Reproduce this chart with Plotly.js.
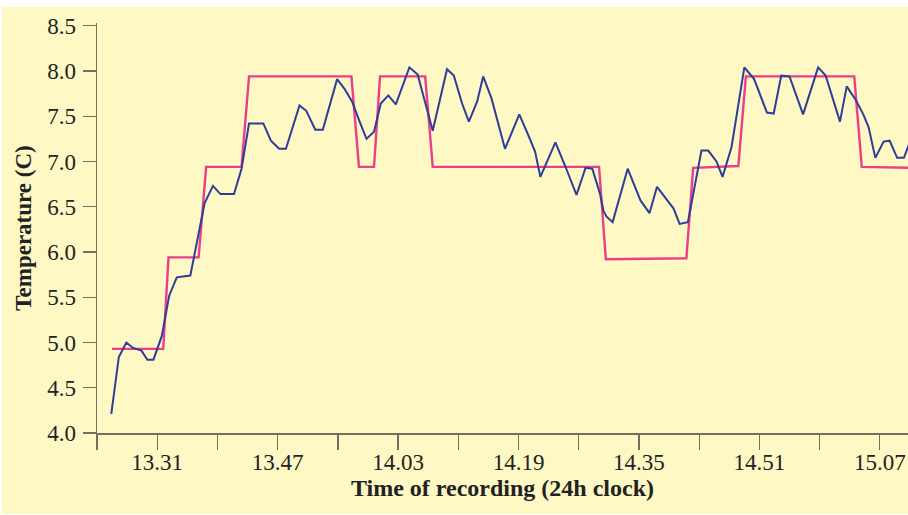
<!DOCTYPE html>
<html>
<head>
<meta charset="utf-8">
<script src="https://cdn.plot.ly/plotly-3.0.1.min.js"></script>
<style>
  html, body { margin: 0; padding: 0; background: #ffffff; width: 908px; height: 515px; overflow: hidden; }
  #chart { position: absolute; left: 2px; top: 7px; width: 906px; height: 507px; }
</style>
</head>
<body>
<div id="chart"></div>
<script>
// Time axis: minutes after 13:00
var measuredMinutes = [24.9, 25.9, 26.9, 27.8, 28.9, 29.7, 30.5, 31.6, 32.6, 33.6, 35.4, 37.3, 38.4, 39.4, 41.2, 42.2, 43.2, 45.1, 46.1, 47.2, 48.1, 49.9, 50.8, 51.3, 52.0, 53.0, 54.9, 55.9, 56.9, 57.8, 58.8, 59.8, 60.7, 61.7, 62.7, 64.5, 65.6, 67.6, 69.5, 70.4, 71.5, 72.4, 73.5, 74.3, 75.4, 77.2, 79.1, 80.3, 81.2, 81.9, 83.9, 85.2, 86.7, 87.9, 88.8, 89.8, 90.3, 90.7, 91.5, 93.5, 95.2, 96.4, 97.4, 99.6, 100.4, 101.5, 103.3, 104.2, 105.3, 106.1, 107.3, 109.0, 110.3, 112.0, 112.9, 113.9, 115.0, 116.8, 118.8, 119.8, 121.7, 122.6, 123.8, 124.8, 125.5, 126.4, 127.5, 128.3, 129.3, 130.2, 131.0];
var measuredTemp    = [4.21, 4.84, 5.00, 4.94, 4.91, 4.81, 4.81, 5.07, 5.52, 5.72, 5.74, 6.54, 6.73, 6.64, 6.64, 6.92, 7.42, 7.42, 7.23, 7.14, 7.14, 7.62, 7.56, 7.48, 7.35, 7.35, 7.91, 7.80, 7.66, 7.46, 7.25, 7.33, 7.64, 7.73, 7.63, 8.04, 7.96, 7.34, 8.02, 7.95, 7.64, 7.44, 7.66, 7.94, 7.70, 7.14, 7.52, 7.29, 7.11, 6.83, 7.21, 6.95, 6.63, 6.93, 6.92, 6.65, 6.45, 6.39, 6.33, 6.92, 6.57, 6.43, 6.72, 6.48, 6.31, 6.33, 7.12, 7.12, 7.00, 6.83, 7.16, 8.04, 7.91, 7.54, 7.53, 7.95, 7.94, 7.52, 8.04, 7.95, 7.44, 7.83, 7.68, 7.52, 7.38, 7.04, 7.22, 7.23, 7.04, 7.04, 7.22];

var setMinutes = [25.0, 31.8, 32.5, 36.5, 37.5, 42.2, 43.2, 56.8, 57.8, 59.8, 60.6, 66.6, 67.6, 89.7, 90.6, 101.3, 102.2, 108.2, 109.2, 123.6, 124.6, 131.0];
var setTemp    = [4.93, 4.93, 5.94, 5.94, 6.94, 6.94, 7.94, 7.94, 6.94, 6.94, 7.94, 7.94, 6.94, 6.94, 5.92, 5.93, 6.93, 6.95, 7.94, 7.94, 6.94, 6.93];

var labelMinutes = [31, 47, 63, 79, 95, 111, 127];
var tickLabels   = ["13.31", "13.47", "14.03", "14.19", "14.35", "14.51", "15.07"];
var yTickVals    = [4.0, 4.5, 5.0, 5.5, 6.0, 6.5, 7.0, 7.5, 8.0, 8.5];
var yTickLabels  = ["4.0", "4.5", "5.0", "5.5", "6.0", "6.5", "7.0", "7.5", "8.0", "8.5"];

// all tick positions: labelled ones plus one halfway before each
var xTickVals = [], xTickText = [];
labelMinutes.forEach(function (m, i) {
  var half = (i === 0) ? m - (labelMinutes[1] - labelMinutes[0]) / 2 : (labelMinutes[i - 1] + m) / 2;
  xTickVals.push(half); xTickText.push("");
  xTickVals.push(m); xTickText.push(tickLabels[i]);
});

var axisColor = "#756e5c";
var serif = "Liberation Serif, Times New Roman, serif";

var traces = [
  { x: setMinutes, y: setTemp, mode: "lines", type: "scatter",
    line: { color: "#e8408a", width: 2.4 }, hoverinfo: "skip" },
  { x: measuredMinutes, y: measuredTemp, mode: "lines", type: "scatter",
    line: { color: "#2f3c98", width: 2 }, hoverinfo: "skip" }
];

var layout = {
  width: 906, height: 507,
  paper_bgcolor: "#fdf8c4", plot_bgcolor: "#fdf8c4",
  margin: { l: 95, r: 0, t: 16, b: 81 },
  showlegend: false,
  xaxis: {
    range: [23, 130.74], showgrid: false, zeroline: false,
    showline: true, linecolor: axisColor, linewidth: 1.5,
    ticks: "outside", ticklen: 15, tickwidth: 1.3, tickcolor: axisColor,
    ticklabelstandoff: -7,
    tickmode: "array", tickvals: xTickVals, ticktext: xTickText,
    tickfont: { family: serif, size: 23, color: "#222222" },
    title: { text: "<b>Time of recording (24h clock)</b>", standoff: 2,
             font: { family: serif, size: 24, color: "#222222" } }
  },
  yaxis: {
    range: [4.0, 8.53], showgrid: false, zeroline: false,
    showline: true, linecolor: axisColor, linewidth: 1.5,
    ticks: "outside", ticklen: 13, tickwidth: 1.3, tickcolor: axisColor,
    ticklabelstandoff: 2,
    tickmode: "array", tickvals: yTickVals, ticktext: yTickLabels,
    tickfont: { family: serif, size: 23, color: "#222222" },
    title: { text: "<b>Temperature (C)</b>", standoff: 9,
             font: { family: serif, size: 23, color: "#222222" } }
  }
};

Plotly.newPlot("chart", traces, layout, { staticPlot: true, displayModeBar: false });
</script>
</body>
</html>
